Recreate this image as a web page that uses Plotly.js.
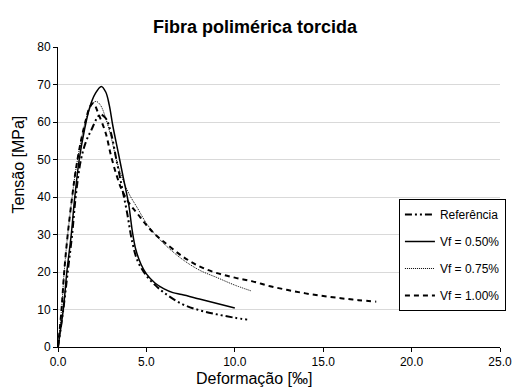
<!DOCTYPE html>
<html><head><meta charset="utf-8">
<script src="https://cdn.plot.ly/plotly-3.0.1.min.js"></script>
<style>html,body{margin:0;padding:0;background:#fff}#c{width:518px;height:389px}</style>
</head><body><div id="c"></div>
<script>
const refX = [0,0.3,0.55,0.8,1.0,1.3,1.6,1.9,2.2,2.4,2.7,3.0,3.3,3.6,3.9,4.2,4.5,5.0,5.5,6.0,7.0,8.0,9.0,10.0,10.7];
const refY = [0,10,20,30,40,50,55,58,61,62,61,57,50,43,36,28,23,19,16.5,14.5,11.5,9.8,8.7,7.8,7.3];
const v050X = [0,0.3,0.5,0.75,0.95,1.2,1.5,1.8,2.1,2.45,2.7,2.9,3.1,3.4,3.7,4.0,4.2,4.4,4.7,5.0,5.5,6.0,6.5,7.0,8.0,9.0,10.0];
const v050Y = [0,10,20,30,40,50,58,64,67.5,69.5,68,64.5,59,52,45,38,31,26,22,19.5,17,15.5,14.5,14,12.8,11.6,10.4];
const v075X = [0,0.2,0.35,0.55,0.8,1.0,1.3,1.6,1.9,2.15,2.4,2.7,3.0,3.3,3.6,4.0,4.5,5.0,5.5,6.0,7.0,8.0,9.0,10.0,10.9];
const v075Y = [0,10,20,30,40,47,55,61,64.5,65.5,64.5,61,56,50,45.5,41,37,33,30,27.5,23.5,20.5,18.5,16.5,15];
const v100X = [0,0.2,0.35,0.55,0.8,1.0,1.3,1.6,1.8,2.0,2.3,2.7,3.0,3.3,3.6,4.0,4.5,5.0,5.5,6.0,7.0,8.0,9.0,10.0,11.0,12.0,13.0,14.0,15.0,16.0,17.0,18.0];
const v100Y = [0,10,20,30,40,47,55,61,64,65,62,57,51,46,42,38.5,35.5,32.5,30,28,24.3,21.5,19.7,18.5,17.5,16.2,15.2,14.3,13.6,13.0,12.5,12.1];
const names = ['Referência','Vf = 0.50%','Vf = 0.75%','Vf = 1.00%'];
const xTicks = [0,5,10,15,20,25];
const xTickText = ['0.0','5.0','10.0','15.0','20.0','25.0'];
const yTicks = [0,10,20,30,40,50,60,70,80];

const traces = [
 {x:refX,y:refY,name:names[0],legendgroup:'a',mode:'lines',line:{color:'#000',width:2,dash:'7px,3px,2px,3px,2px,3px',shape:'spline'}},
 {x:v050X,y:v050Y,name:names[1],legendgroup:'b',mode:'lines',line:{color:'#000',width:1.5,shape:'spline'}},
 {x:v075X,y:v075Y,name:names[2],legendgroup:'c',mode:'lines',line:{color:'#000',width:1,dash:'1px,1px',shape:'spline'}},
 {x:v100X,y:v100Y,name:names[3],legendgroup:'d',mode:'lines',line:{color:'#000',width:2,dash:'5px,4px',shape:'spline'}}
];
const ff = 'Arial, "Liberation Sans", sans-serif';
const layout = {
 width:518,height:389,
 margin:{l:58,r:13,t:47,b:42},
 paper_bgcolor:'#fff',plot_bgcolor:'#fff',
 font:{family:ff,size:12,color:'#000'},
 title:{text:'<b>Fibra polimérica torcida</b>',font:{family:ff,size:18,color:'#000'},x:255/518,xanchor:'center',y:1-27/389,yanchor:'middle'},
 xaxis:{range:[0,25],tickvals:xTicks,ticktext:xTickText,showgrid:false,zeroline:false,
   showline:true,linecolor:'#000',linewidth:1,ticks:'outside',ticklen:4,tickcolor:'#000',
   tickfont:{family:ff,size:12,color:'#000'},automargin:false},
 yaxis:{range:[0,80],tickvals:yTicks,showgrid:true,gridcolor:'#d9d9d9',gridwidth:1,zeroline:false,
   showline:true,linecolor:'#000',linewidth:1,ticks:'outside',ticklen:4,tickcolor:'#000',
   tickfont:{family:ff,size:12,color:'#000'},automargin:false},
 annotations:[
   {text:'Tensão [MPa]',xref:'paper',yref:'paper',x:(18-58)/447,y:(347.3-164)/300.6,textangle:-90,
    showarrow:false,xanchor:'center',yanchor:'middle',font:{family:ff,size:16,color:'#000'}},
   {text:'Deformação [‰]',xref:'paper',yref:'paper',x:(256.5-58)/447,y:(347.3-379)/300.6,
    showarrow:false,xanchor:'center',yanchor:'middle',font:{family:ff,size:16,color:'#000'}}
 ],
 legend:{x:(511-58)/447,y:(347.3-199)/300.6,xanchor:'right',yanchor:'top',bordercolor:'#000',borderwidth:1,bgcolor:'#fff',
   font:{family:ff,size:12,color:'#000'},tracegroupgap:8,itemwidth:30},
 showlegend:true
};
Plotly.newPlot('c',traces,layout,{displayModeBar:false,staticPlot:true});
</script></body></html>
